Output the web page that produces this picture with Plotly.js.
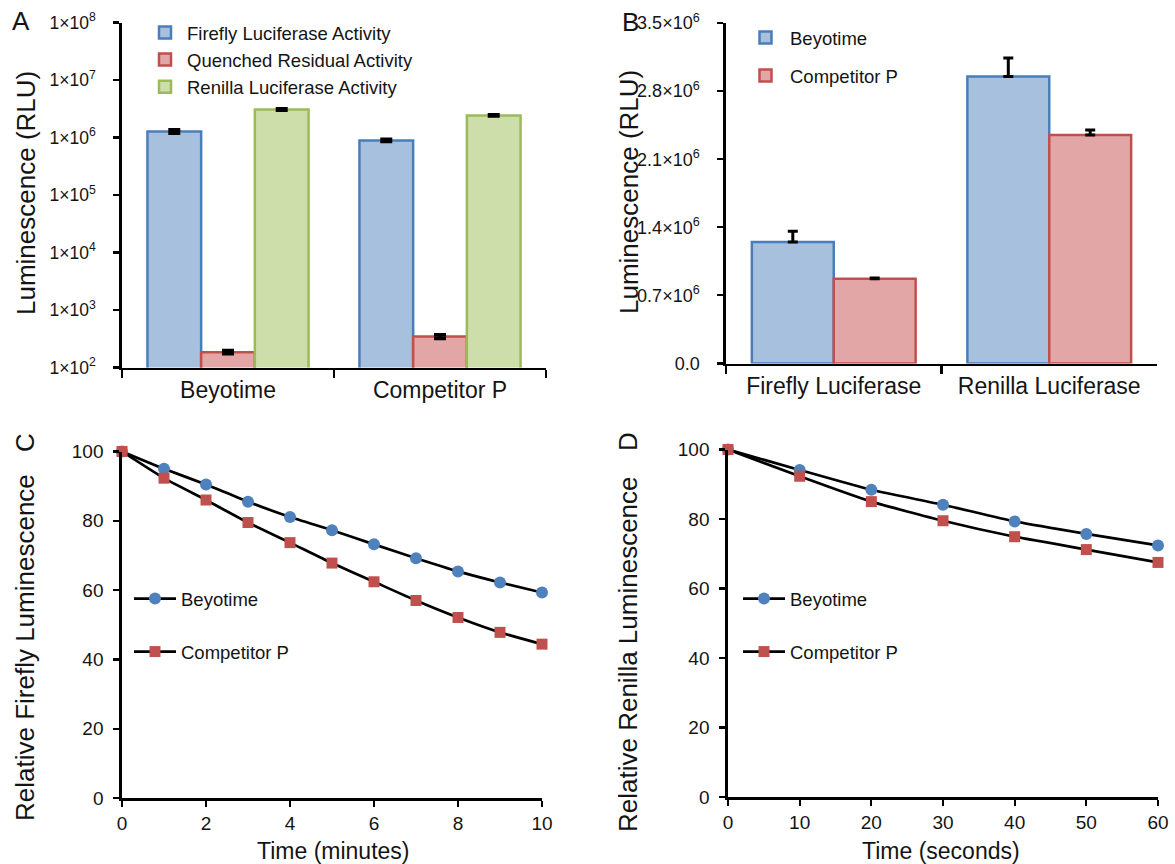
<!DOCTYPE html>
<html>
<head>
<meta charset="utf-8">
<script src="https://cdn.plot.ly/plotly-3.0.1.min.js"></script>
<style>html,body{margin:0;padding:0;background:#fff;}#chart{width:1175px;height:864px;}</style>
</head>
<body>
<div id="chart"></div>
<script>
// ---- Panel A data (log scale) ----
var aCategories = ["Beyotime", "Competitor P"];
var aFirefly = [1.27e6, 8.9e5];
var aFireflyErr = [0.09e6, 0.04e6];
var aQuenched = [185, 345];
var aQuenchedErr = [12, 25];
var aRenilla = [3.07e6, 2.42e6];
var aRenillaErr = [0.09e6, 0.06e6];
var aTickVals = [1e2, 1e3, 1e4, 1e5, 1e6, 1e7, 1e8];
var aTickText = ["1×10<sup>2</sup>", "1×10<sup>3</sup>", "1×10<sup>4</sup>", "1×10<sup>5</sup>", "1×10<sup>6</sup>", "1×10<sup>7</sup>", "1×10<sup>8</sup>"];

// ---- Panel B data ----
var bCategories = ["Firefly Luciferase", "Renilla Luciferase"];
var bBeyotime = [1.25e6, 2.95e6];
var bBeyotimeErr = [0.11e6, 0.19e6];
var bCompetitor = [0.87e6, 2.35e6];
var bCompetitorErr = [0.01e6, 0.05e6];
var bTickVals = [0, 0.7e6, 1.4e6, 2.1e6, 2.8e6, 3.5e6];
var bTickText = ["0.0", "0.7×10<sup>6</sup>", "1.4×10<sup>6</sup>", "2.1×10<sup>6</sup>", "2.8×10<sup>6</sup>", "3.5×10<sup>6</sup>"];

// ---- Panel C data ----
var cTime = [0, 1, 2, 3, 4, 5, 6, 7, 8, 9, 10];
var cBeyotime = [100, 95.0, 90.5, 85.5, 81.1, 77.3, 73.2, 69.2, 65.4, 62.2, 59.3];
var cCompetitor = [100, 92.3, 86.0, 79.5, 73.7, 67.8, 62.4, 57.0, 52.1, 47.8, 44.4];

// ---- Panel D data ----
var dTime = [0, 10, 20, 30, 40, 50, 60];
var dBeyotime = [100, 94.1, 88.4, 84.1, 79.3, 75.7, 72.4];
var dCompetitor = [100, 92.3, 85.0, 79.5, 74.9, 71.2, 67.5];

var W = 1175, H = 864;
function px(x) { return x / W; }
function py(y) { return 1 - y / H; }

var FONT = "Liberation Sans, Arial, sans-serif";
var TXT = "#141414";
var blueFill = "#a7c0de", blueLine = "#4a7ebb";
var redFill = "#e2a6a6", redLine = "#c0504d";
var greenFill = "#cddeab", greenLine = "#9bbb59";
var blueMark = "#4f81bd", redMark = "#c0504d";

function errUp(arr) {
  return {type: "data", array: arr, visible: true, color: "#000", thickness: 3.5, width: 6};
}
function errPlus(arr) {
  return {type: "data", symmetric: false, array: arr, arrayminus: arr.map(function(){return 0;}), visible: true, color: "#000", thickness: 3, width: 5};
}

var lineStyle = {color: "#000", width: 2.7, shape: "spline", smoothing: 0.5};

var traces = [
  {type: "bar", x: aCategories, y: aFirefly, name: "Firefly Luciferase Activity", xaxis: "x", yaxis: "y",
   marker: {color: blueFill, line: {color: blueLine, width: 2.5}}, error_y: errUp(aFireflyErr), legend: "legend", legendgroup: "a1"},
  {type: "bar", x: aCategories, y: aQuenched, name: "Quenched Residual Activity", xaxis: "x", yaxis: "y",
   marker: {color: redFill, line: {color: redLine, width: 2.5}}, error_y: errUp(aQuenchedErr), legend: "legend", legendgroup: "a2"},
  {type: "bar", x: aCategories, y: aRenilla, name: "Renilla Luciferase Activity", xaxis: "x", yaxis: "y",
   marker: {color: greenFill, line: {color: greenLine, width: 2.5}}, error_y: errUp(aRenillaErr), legend: "legend", legendgroup: "a3"},

  {type: "bar", x: bCategories, y: bBeyotime, name: "Beyotime", xaxis: "x2", yaxis: "y2",
   marker: {color: blueFill, line: {color: blueLine, width: 2.5}}, error_y: errPlus(bBeyotimeErr), legend: "legend2", legendgroup: "b1"},
  {type: "bar", x: bCategories, y: bCompetitor, name: "Competitor P", xaxis: "x2", yaxis: "y2",
   marker: {color: redFill, line: {color: redLine, width: 2.5}}, error_y: errPlus(bCompetitorErr), legend: "legend2", legendgroup: "b2"},

  {type: "scatter", mode: "lines+markers", x: cTime, y: cBeyotime, name: "Beyotime", xaxis: "x3", yaxis: "y3", cliponaxis: false,
   line: lineStyle, marker: {symbol: "circle", size: 12, color: blueMark}, legend: "legend3", legendgroup: "c1"},
  {type: "scatter", mode: "lines+markers", x: cTime, y: cCompetitor, name: "Competitor P", xaxis: "x3", yaxis: "y3", cliponaxis: false,
   line: lineStyle, marker: {symbol: "square", size: 11, color: redMark}, legend: "legend3", legendgroup: "c2"},

  {type: "scatter", mode: "lines+markers", x: dTime, y: dBeyotime, name: "Beyotime", xaxis: "x4", yaxis: "y4", cliponaxis: false,
   line: lineStyle, marker: {symbol: "circle", size: 12, color: blueMark}, legend: "legend4", legendgroup: "d1"},
  {type: "scatter", mode: "lines+markers", x: dTime, y: dCompetitor, name: "Competitor P", xaxis: "x4", yaxis: "y4", cliponaxis: false,
   line: lineStyle, marker: {symbol: "square", size: 11, color: redMark}, legend: "legend4", legendgroup: "d2"}
];

function axisBase(extra) {
  var a = {showline: true, linecolor: "#000", linewidth: 2.7, showgrid: false, zeroline: false,
    ticks: "outside", ticklen: 6, tickwidth: 2.2, tickcolor: "#000",
    tickfont: {family: FONT, size: 19, color: TXT}, fixedrange: true};
  for (var k in extra) a[k] = extra[k];
  return a;
}

function legendAt(x, y, size, gap, order, iw) {
  return {x: px(x), y: py(y), xanchor: "left", yanchor: "top", bgcolor: "rgba(0,0,0,0)",
    font: {family: FONT, size: size, color: TXT}, tracegroupgap: gap, traceorder: order, itemwidth: iw};
}

function ann(text, x, y, size, angle) {
  return {text: text, x: px(x), y: py(y), xref: "paper", yref: "paper", xanchor: "center", yanchor: "middle",
    textangle: angle || 0, showarrow: false, font: {family: FONT, size: size, color: TXT}};
}

var layout = {
  width: W, height: H,
  margin: {l: 0, r: 0, t: 0, b: 0},
  paper_bgcolor: "#fff", plot_bgcolor: "rgba(0,0,0,0)",
  font: {family: FONT, color: TXT},
  barmode: "group",
  showlegend: true,
  xaxis: axisBase({domain: [px(122), px(546)], type: "category", range: [-0.5, 1.5], tickson: "boundaries", ticklen: 8,
    tickfont: {family: FONT, size: 23, color: TXT}, anchor: "y"}),
  yaxis: axisBase({domain: [py(367.5), py(22.5)], type: "log", range: [2, 8], tickvals: aTickVals, ticktext: aTickText,
    tickfont: {family: FONT, size: 17.5, color: TXT}, ticklabelstandoff: 14, anchor: "x"}),
  xaxis2: axisBase({domain: [px(726), px(1157)], type: "category", range: [-0.5, 1.5], tickson: "boundaries", ticklen: 8,
    tickfont: {family: FONT, size: 23, color: TXT}, anchor: "y2"}),
  yaxis2: axisBase({domain: [py(363.5), py(23)], range: [0, 3.5e6], tickvals: bTickVals, ticktext: bTickText,
    tickfont: {family: FONT, size: 18, color: TXT}, ticklabelstandoff: 14, anchor: "x2"}),
  xaxis3: axisBase({domain: [px(122), px(542)], range: [0, 10], tickvals: [0, 2, 4, 6, 8, 10], anchor: "y3"}),
  yaxis3: axisBase({domain: [py(798), py(451.5)], range: [0, 100], tickvals: [0, 20, 40, 60, 80, 100], ticklabelstandoff: 6, anchor: "x3"}),
  xaxis4: axisBase({domain: [px(728), px(1158)], range: [0, 60], tickvals: [0, 10, 20, 30, 40, 50, 60], anchor: "y4"}),
  yaxis4: axisBase({domain: [py(797), py(449.5)], range: [0, 100], tickvals: [0, 20, 40, 60, 80, 100], ticklabelstandoff: 6, anchor: "x4"}),
  bargap: 0.24,
  legend: legendAt(143, 14, 18.5, 0, "normal", 34),
  legend2: legendAt(741, 19, 18.5, 11, "grouped", 39),
  legend3: legendAt(129, 580, 18.5, 26, "grouped", 42),
  legend4: legendAt(738, 580, 18.5, 26, "grouped", 42),
  annotations: [
    ann("A", 21, 21, 26),
    ann("B", 630, 22, 26),
    ann("Luminescence (RLU)", 26, 193, 26, -90),
    ann("Luminescence (RLU)", 629, 192, 26, -90),
    ann("Relative Firefly Luminescence", 25, 648, 26, -90),
    ann("C", 25, 443, 26, -90),
    ann("Relative Renilla Luminescence", 628, 654, 26, -90),
    ann("D", 628, 442, 26, -90),
    ann("Time (minutes)", 333, 851, 23),
    ann("Time (seconds)", 941, 851, 23)
  ]
};

Plotly.newPlot("chart", traces, layout, {displayModeBar: false, staticPlot: true});
</script>
</body>
</html>
